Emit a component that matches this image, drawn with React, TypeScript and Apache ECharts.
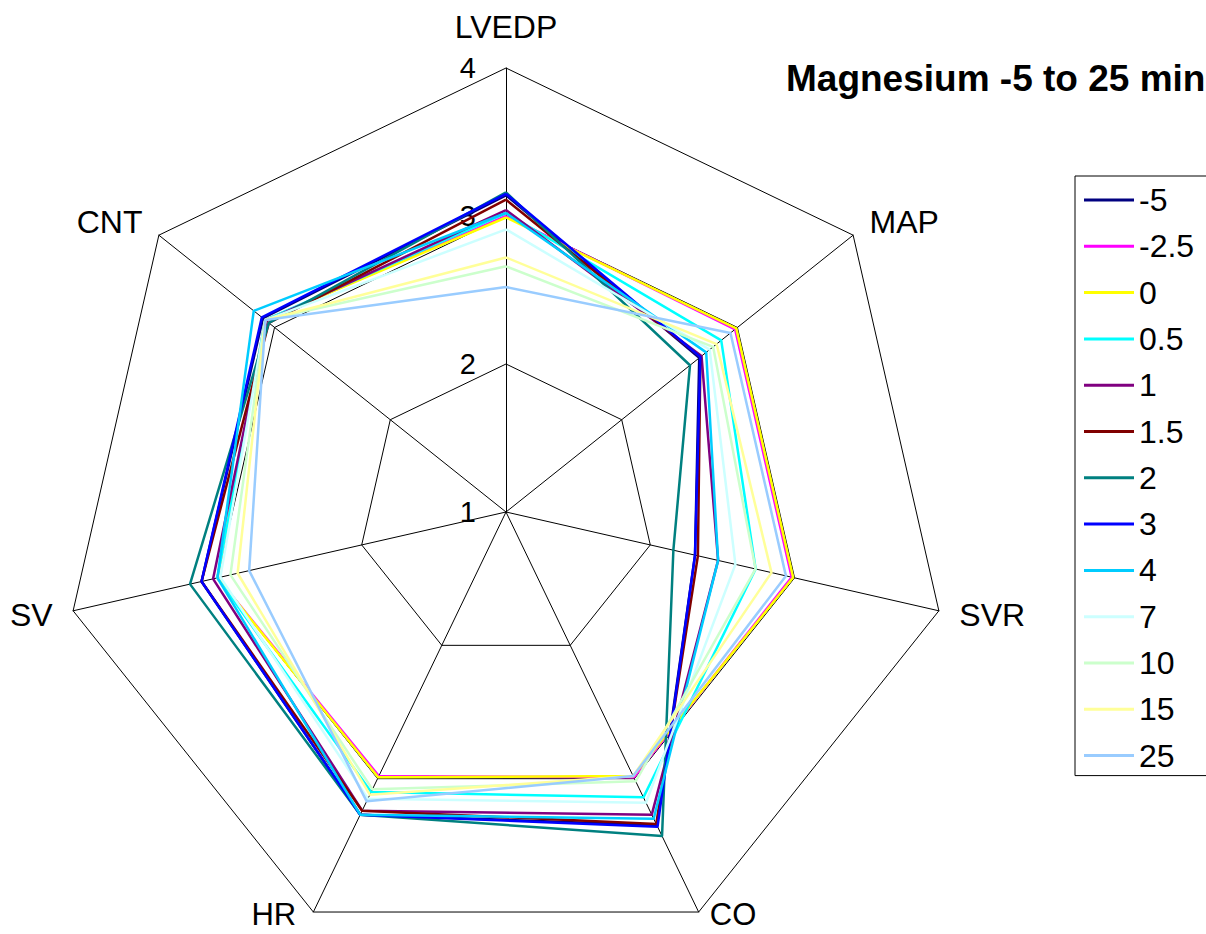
import React, { useEffect, useRef } from 'react';
import * as echarts from 'echarts';

// Indicators listed counter-clockwise from the top (ECharts radar order)
const indicatorNames = ['LVEDP', 'CNT', 'SV', 'HR', 'CO', 'SVR', 'MAP'];
const tickLabels = ['1', '2', '3', '4'];

const seriesNames = ['-5', '-2.5', '0', '0.5', '1', '1.5', '2', '3', '4', '7', '10', '15', '25'];
const seriesColors = [
  '#000080', '#FF00FF', '#FFFF00', '#00FFFF', '#800080', '#800000', '#008080',
  '#0000FF', '#00CCFF', '#CCFFFF', '#CCFFCC', '#FFFF99', '#99CCFF',
];

// values in order: LVEDP, CNT, SV, HR, CO, SVR, MAP
const valsM5 = [3.14, 3.10, 3.11, 3.27, 3.35, 2.31, 2.67];
const valsM2_5 = [3.00, 3.08, 3.00, 2.98, 2.99, 2.98, 2.98];
const vals0 = [2.99, 3.08, 3.00, 2.99, 2.98, 2.99, 2.99];
const vals0_5 = [3.02, 3.08, 3.00, 3.10, 3.14, 2.73, 2.86];
const vals1 = [3.04, 3.07, 3.03, 3.24, 3.27, 2.47, 2.69];
const vals1_5 = [3.11, 3.05, 3.11, 3.24, 3.34, 2.33, 2.68];
const vals2 = [3.16, 3.05, 3.19, 3.27, 3.43, 2.16, 2.59];
const vals3 = [3.15, 3.11, 3.11, 3.27, 3.36, 2.31, 2.68];
const vals4 = [3.02, 3.18, 3.00, 3.27, 3.30, 2.47, 2.73];
const vals7 = [2.91, 3.08, 2.98, 3.15, 3.18, 2.59, 2.76];
const vals10 = [2.66, 3.08, 2.91, 3.08, 3.02, 2.73, 2.79];
const vals15 = [2.72, 3.08, 2.86, 3.12, 2.98, 2.84, 2.82];
const vals25 = [2.52, 3.08, 2.78, 3.17, 2.98, 2.94, 2.94];

const allValues = [valsM5, valsM2_5, vals0, vals0_5, vals1, vals1_5, vals2, vals3, vals4, vals7, vals10, vals15, vals25];

const FONT = "'Liberation Sans', Arial, sans-serif";

export default function App() {
  const ref = useRef<HTMLDivElement>(null);

  useEffect(() => {
    if (!ref.current) return;
    const chart = echarts.init(ref.current, null, { renderer: 'svg' });
    const option: any = {
      animation: false,
      backgroundColor: '#fff',
      textStyle: { fontFamily: FONT },
      title: {
        text: 'Magnesium -5 to 25 min',
        left: 786,
        top: 60,
        padding: 0,
        textStyle: { fontSize: 37, fontWeight: 'bold', color: '#000', fontFamily: FONT },
      },
      legend: {
        orient: 'vertical',
        left: 1075,
        top: 176,
        padding: [6, 80, 2, 9],
        itemGap: 10.3,
        itemWidth: 50,
        itemHeight: 3,
        icon: 'rect',
        borderColor: '#000',
        borderWidth: 1,
        data: seriesNames,
        textStyle: { fontSize: 32, lineHeight: 36, color: '#000', fontFamily: FONT },
      },
      radar: {
        center: [506, 512],
        radius: 444,
        startAngle: 90,
        splitNumber: 3,
        shape: 'polygon',
        nameGap: 21,
        indicator: indicatorNames.map((n) => ({ name: n, min: 1, max: 4 })),
        axisName: {
          color: '#000',
          fontSize: 32,
          fontFamily: FONT,
          formatter: (name: string) =>
            name === 'CO' ? '{co|CO}' : name === 'HR' ? '{hr|HR}' : name === 'LVEDP' ? '{top|LVEDP}' : name,
          rich: {
            top: { fontSize: 32, fontFamily: FONT, color: '#000', padding: [0, 0, 4, 0] },
            co: { fontSize: 31, fontFamily: FONT, color: '#000', padding: [0, 0, 32, 2] },
            hr: { fontSize: 31, fontFamily: FONT, color: '#000', padding: [0, 8, 32, 0] },
          },
        },
        splitLine: { lineStyle: { color: '#000', width: 1 } },
        splitArea: { show: false },
        axisLine: { lineStyle: { color: '#000', width: 1 } },
        axisTick: { show: false },
        axisLabel: { show: false },
      },
      polar: { center: [506, 512], radius: 444 },
      angleAxis: { show: false, startAngle: 90, min: 0, max: 360 },
      radiusAxis: {
        type: 'value',
        min: 1,
        max: 4,
        interval: 1,
        axisLine: { show: false },
        axisTick: { show: false },
        splitLine: { show: false },
        axisLabel: {
          margin: 30,
          fontSize: 29,
          color: '#000',
          fontFamily: FONT,
          formatter: (v: number) => tickLabels[Math.round(v) - 1] ?? '',
        },
      },
      series: seriesNames.map((name, i) => ({
        type: 'radar',
        name,
        symbol: 'none',
        color: seriesColors[i],
        lineStyle: { color: seriesColors[i], width: 2.5 },
        itemStyle: { color: seriesColors[i] },
        data: [{ name, value: allValues[i] }],
      })),
    };
    chart.setOption(option);
    return () => chart.dispose();
  }, []);

  return (
    <div
      ref={ref}
      style={{ position: 'fixed', left: 0, top: 0, width: 1206, height: 934, background: '#fff' }}
    />
  );
}
